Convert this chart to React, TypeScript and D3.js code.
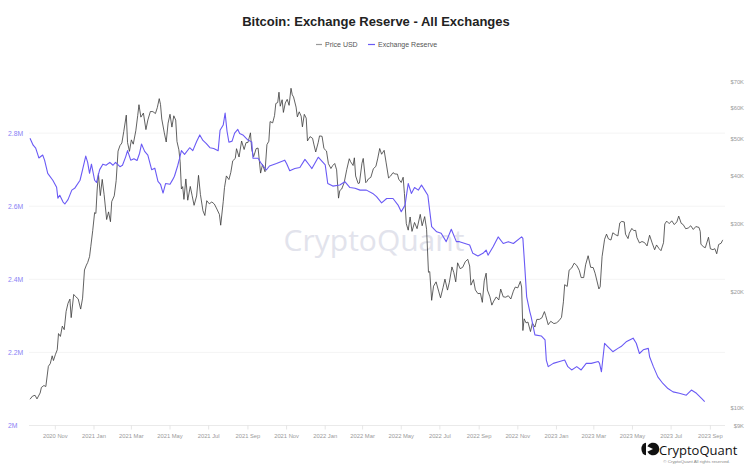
import React from 'react';
import * as d3 from 'd3';

const TITLE = 'Bitcoin: Exchange Reserve - All Exchanges';
const LEGEND = ['Price USD', 'Exchange Reserve'];
const RESERVE_TICKS = [2e6, 2.2e6, 2.4e6, 2.6e6, 2.8e6];
const PRICE_TICKS = [9000, 10000, 20000, 30000, 40000, 50000, 60000, 70000];

const PRICE_USD: [string, number][] = [
  ['2020-09-22', 10530], ['2020-09-26', 10730], ['2020-09-30', 10780], ['2020-10-03', 10550], ['2020-10-08', 10930],
  ['2020-10-10', 11300], ['2020-10-14', 11430], ['2020-10-17', 11360], ['2020-10-21', 12820], ['2020-10-24', 13030],
  ['2020-10-27', 13650], ['2020-10-29', 13270], ['2020-11-01', 13740], ['2020-11-04', 14150], ['2020-11-06', 15590],
  ['2020-11-09', 15330], ['2020-11-12', 16300], ['2020-11-15', 15960], ['2020-11-18', 17800], ['2020-11-21', 18680],
  ['2020-11-24', 19160], ['2020-11-26', 17150], ['2020-11-30', 19700], ['2020-12-03', 19450], ['2020-12-07', 19190],
  ['2020-12-11', 18050], ['2020-12-14', 19270], ['2020-12-17', 22800], ['2020-12-20', 23480], ['2020-12-22', 23830],
  ['2020-12-25', 24700], ['2020-12-27', 26270], ['2020-12-30', 28840], ['2021-01-02', 32130], ['2021-01-04', 31970],
  ['2021-01-06', 36770], ['2021-01-08', 40580], ['2021-01-11', 35570], ['2021-01-14', 39190], ['2021-01-17', 35790],
  ['2021-01-21', 30830], ['2021-01-24', 32270], ['2021-01-27', 30430], ['2021-01-29', 34320], ['2021-02-02', 35520],
  ['2021-02-05', 38900], ['2021-02-08', 46400], ['2021-02-11', 47950], ['2021-02-14', 48720], ['2021-02-17', 52150],
  ['2021-02-21', 57540], ['2021-02-23', 48820], ['2021-02-26', 46340], ['2021-03-01', 49630], ['2021-03-04', 48370],
  ['2021-03-08', 52400], ['2021-03-11', 57350], ['2021-03-13', 61240], ['2021-03-16', 56850], ['2021-03-20', 58250],
  ['2021-03-24', 52770], ['2021-03-27', 55870], ['2021-03-31', 58800], ['2021-04-04', 58760], ['2021-04-08', 58090],
  ['2021-04-11', 60210], ['2021-04-14', 63500], ['2021-04-16', 61340], ['2021-04-18', 56200], ['2021-04-22', 51760],
  ['2021-04-25', 49000], ['2021-04-28', 54860], ['2021-05-01', 57830], ['2021-05-04', 53570], ['2021-05-07', 57310],
  ['2021-05-10', 55860], ['2021-05-12', 49150], ['2021-05-15', 46760], ['2021-05-17', 43540], ['2021-05-19', 37000],
  ['2021-05-21', 37530], ['2021-05-23', 34770], ['2021-05-26', 39290], ['2021-05-29', 34600], ['2021-06-02', 37570],
  ['2021-06-05', 35520], ['2021-06-08', 33560], ['2021-06-12', 35490], ['2021-06-15', 40150], ['2021-06-18', 35820],
  ['2021-06-22', 32500], ['2021-06-25', 31580], ['2021-06-28', 34500], ['2021-07-02', 33870], ['2021-07-06', 34240],
  ['2021-07-10', 33820], ['2021-07-14', 32820], ['2021-07-18', 31780], ['2021-07-20', 29800], ['2021-07-24', 34300],
  ['2021-07-26', 37300], ['2021-07-29', 40010], ['2021-08-02', 39150], ['2021-08-05', 40870], ['2021-08-08', 43790],
  ['2021-08-12', 44420], ['2021-08-14', 47080], ['2021-08-18', 44800], ['2021-08-22', 49290], ['2021-08-26', 46850],
  ['2021-08-29', 48810], ['2021-09-01', 48850], ['2021-09-05', 51760], ['2021-09-07', 46810], ['2021-09-10', 44870],
  ['2021-09-14', 47110], ['2021-09-17', 47260], ['2021-09-21', 40690], ['2021-09-24', 42840], ['2021-09-28', 41030],
  ['2021-10-01', 48230], ['2021-10-04', 49230], ['2021-10-06', 55360], ['2021-10-10', 54940], ['2021-10-13', 57370],
  ['2021-10-15', 61670], ['2021-10-18', 62040], ['2021-10-20', 65990], ['2021-10-22', 60690], ['2021-10-25', 63090],
  ['2021-10-27', 58480], ['2021-10-30', 61890], ['2021-11-02', 63230], ['2021-11-05', 61010], ['2021-11-08', 67560],
  ['2021-11-10', 64950], ['2021-11-12', 64160], ['2021-11-16', 60370], ['2021-11-18', 56940], ['2021-11-21', 58690],
  ['2021-11-24', 57190], ['2021-11-26', 53640], ['2021-11-29', 57810], ['2021-12-02', 56510], ['2021-12-04', 49320],
  ['2021-12-08', 50600], ['2021-12-12', 50100], ['2021-12-14', 48380], ['2021-12-17', 46160], ['2021-12-21', 48910],
  ['2021-12-23', 50820], ['2021-12-27', 50700], ['2021-12-30', 47120], ['2022-01-03', 46430], ['2022-01-06', 43080],
  ['2022-01-10', 41820], ['2022-01-13', 42590], ['2022-01-16', 43100], ['2022-01-19', 41500], ['2022-01-22', 35030],
  ['2022-01-24', 36650], ['2022-01-27', 37000], ['2022-01-31', 38480], ['2022-02-04', 41570], ['2022-02-08', 44340],
  ['2022-02-10', 43570], ['2022-02-14', 42580], ['2022-02-16', 44580], ['2022-02-18', 40000], ['2022-02-22', 38230],
  ['2022-02-24', 38330], ['2022-02-28', 43160], ['2022-03-02', 44420], ['2022-03-06', 38420], ['2022-03-08', 38740],
  ['2022-03-10', 39280], ['2022-03-14', 39670], ['2022-03-18', 41770], ['2022-03-22', 42360], ['2022-03-25', 44500],
  ['2022-03-28', 47130], ['2022-03-31', 45540], ['2022-04-04', 46620], ['2022-04-07', 43450], ['2022-04-11', 39520],
  ['2022-04-14', 39950], ['2022-04-18', 40800], ['2022-04-21', 40480], ['2022-04-25', 40430], ['2022-04-27', 39240],
  ['2022-05-01', 38470], ['2022-05-04', 39690], ['2022-05-06', 36040], ['2022-05-09', 30070], ['2022-05-12', 28930],
  ['2022-05-15', 31300], ['2022-05-18', 28720], ['2022-05-22', 30290], ['2022-05-26', 29190], ['2022-05-31', 31790],
  ['2022-06-03', 29700], ['2022-06-07', 31370], ['2022-06-10', 29080], ['2022-06-13', 22490], ['2022-06-15', 22580],
  ['2022-06-18', 19020], ['2022-06-21', 20700], ['2022-06-25', 21240], ['2022-06-29', 20100], ['2022-07-02', 19300],
  ['2022-07-06', 20540], ['2022-07-09', 21590], ['2022-07-13', 20220], ['2022-07-16', 21200], ['2022-07-20', 23220],
  ['2022-07-23', 22450], ['2022-07-26', 21240], ['2022-07-29', 23800], ['2022-08-02', 22980], ['2022-08-06', 23170],
  ['2022-08-10', 23950], ['2022-08-14', 24310], ['2022-08-17', 23350], ['2022-08-19', 20830], ['2022-08-23', 21530],
  ['2022-08-26', 20240], ['2022-08-30', 19800], ['2022-09-03', 19830], ['2022-09-06', 18790], ['2022-09-09', 21360],
  ['2022-09-12', 22370], ['2022-09-14', 20230], ['2022-09-18', 19420], ['2022-09-21', 18480], ['2022-09-24', 18930],
  ['2022-09-28', 19410], ['2022-10-02', 19060], ['2022-10-05', 20340], ['2022-10-09', 19420], ['2022-10-13', 19380],
  ['2022-10-17', 19550], ['2022-10-21', 19170], ['2022-10-25', 20090], ['2022-10-28', 20590], ['2022-11-01', 20490],
  ['2022-11-05', 21300], ['2022-11-07', 20600], ['2022-11-09', 15880], ['2022-11-11', 17030], ['2022-11-14', 16620],
  ['2022-11-17', 16700], ['2022-11-21', 15780], ['2022-11-24', 16600], ['2022-11-28', 16210], ['2022-12-01', 16970],
  ['2022-12-05', 16970], ['2022-12-09', 17130], ['2022-12-13', 17780], ['2022-12-15', 17360], ['2022-12-19', 16440],
  ['2022-12-23', 16780], ['2022-12-28', 16550], ['2023-01-01', 16620], ['2023-01-05', 16830], ['2023-01-09', 17180],
  ['2023-01-12', 18850], ['2023-01-14', 20880], ['2023-01-18', 20670], ['2023-01-21', 22780], ['2023-01-25', 23060],
  ['2023-01-29', 23750], ['2023-02-02', 23430], ['2023-02-06', 22760], ['2023-02-09', 21790], ['2023-02-13', 21790],
  ['2023-02-16', 23520], ['2023-02-20', 24830], ['2023-02-24', 23170], ['2023-02-28', 23130], ['2023-03-03', 22360],
  ['2023-03-09', 20360], ['2023-03-11', 20620], ['2023-03-14', 24680], ['2023-03-18', 27400], ['2023-03-21', 28250],
  ['2023-03-24', 27470], ['2023-03-28', 27270], ['2023-03-31', 28480], ['2023-04-04', 28170], ['2023-04-08', 27950],
  ['2023-04-11', 30210], ['2023-04-14', 30480], ['2023-04-18', 30390], ['2023-04-20', 28240], ['2023-04-24', 27510],
  ['2023-04-26', 28420], ['2023-04-30', 29230], ['2023-05-03', 28850], ['2023-05-06', 28900], ['2023-05-08', 27690],
  ['2023-05-12', 26800], ['2023-05-16', 27030], ['2023-05-20', 26860], ['2023-05-24', 26330], ['2023-05-28', 28070],
  ['2023-06-01', 26820], ['2023-06-05', 25730], ['2023-06-08', 26480], ['2023-06-12', 25900], ['2023-06-15', 25590],
  ['2023-06-19', 26840], ['2023-06-21', 30010], ['2023-06-24', 30540], ['2023-06-28', 30080], ['2023-07-02', 30590],
  ['2023-07-06', 29910], ['2023-07-10', 30400], ['2023-07-13', 31460], ['2023-07-17', 30120], ['2023-07-20', 29920],
  ['2023-07-24', 29180], ['2023-07-28', 29300], ['2023-08-01', 29700], ['2023-08-05', 29050], ['2023-08-09', 29560],
  ['2023-08-14', 29410], ['2023-08-16', 28700], ['2023-08-17', 26620], ['2023-08-21', 26180], ['2023-08-24', 26050],
  ['2023-08-29', 27730], ['2023-09-01', 25880], ['2023-09-05', 25750], ['2023-09-08', 25900], ['2023-09-11', 25120],
  ['2023-09-14', 26550], ['2023-09-18', 26760], ['2023-09-20', 27200], ['2023-09-21', 27300],
];

const EXCHANGE_RESERVE: [string, number][] = [
  ['2020-09-22', 2.786e6], ['2020-09-27', 2.767e6], ['2020-10-01', 2.759e6], ['2020-10-06', 2.732e6], ['2020-10-12', 2.740e6],
  ['2020-10-15', 2.726e6], ['2020-10-20', 2.690e6], ['2020-10-28', 2.671e6], ['2020-11-03', 2.652e6], ['2020-11-05', 2.622e6],
  ['2020-11-08', 2.630e6], ['2020-11-13', 2.612e6], ['2020-11-16', 2.606e6], ['2020-11-21', 2.618e6], ['2020-11-27', 2.644e6],
  ['2020-12-02', 2.650e6], ['2020-12-10', 2.671e6], ['2020-12-14', 2.700e6], ['2020-12-19', 2.737e6], ['2020-12-22', 2.720e6],
  ['2020-12-25', 2.690e6], ['2020-12-28', 2.715e6], ['2021-01-02', 2.671e6], ['2021-01-05', 2.665e6], ['2021-01-10', 2.700e6],
  ['2021-01-15', 2.715e6], ['2021-01-20', 2.712e6], ['2021-01-26', 2.720e6], ['2021-01-31', 2.712e6], ['2021-02-04', 2.720e6],
  ['2021-02-11', 2.708e6], ['2021-02-15', 2.712e6], ['2021-02-20', 2.735e6], ['2021-02-23', 2.752e6], ['2021-02-28', 2.726e6],
  ['2021-03-05', 2.730e6], ['2021-03-10', 2.725e6], ['2021-03-14', 2.745e6], ['2021-03-17', 2.770e6], ['2021-03-22', 2.750e6],
  ['2021-03-27', 2.740e6], ['2021-04-02', 2.700e6], ['2021-04-07', 2.704e6], ['2021-04-12', 2.668e6], ['2021-04-16', 2.660e6],
  ['2021-04-20', 2.636e6], ['2021-04-24', 2.662e6], ['2021-05-01', 2.660e6], ['2021-05-05', 2.672e6], ['2021-05-08', 2.682e6],
  ['2021-05-13', 2.710e6], ['2021-05-16', 2.730e6], ['2021-05-19', 2.752e6], ['2021-05-24', 2.742e6], ['2021-06-01', 2.760e6],
  ['2021-06-06', 2.752e6], ['2021-06-12', 2.777e6], ['2021-06-17', 2.795e6], ['2021-06-22', 2.780e6], ['2021-06-27', 2.772e6],
  ['2021-07-03', 2.760e6], ['2021-07-09', 2.758e6], ['2021-07-16', 2.752e6], ['2021-07-19', 2.808e6], ['2021-07-24', 2.822e6],
  ['2021-07-27', 2.855e6], ['2021-07-30', 2.805e6], ['2021-08-02', 2.775e6], ['2021-08-07', 2.778e6], ['2021-08-11', 2.800e6],
  ['2021-08-16', 2.810e6], ['2021-08-19', 2.799e6], ['2021-08-24', 2.795e6], ['2021-09-01', 2.781e6], ['2021-09-07', 2.776e6],
  ['2021-09-09', 2.731e6], ['2021-09-17', 2.731e6], ['2021-09-22', 2.717e6], ['2021-09-30', 2.699e6], ['2021-10-05', 2.710e6],
  ['2021-10-16', 2.717e6], ['2021-10-29', 2.726e6], ['2021-11-01', 2.717e6], ['2021-11-06', 2.697e6], ['2021-11-14', 2.703e6],
  ['2021-11-22', 2.706e6], ['2021-11-30', 2.728e6], ['2021-12-08', 2.710e6], ['2021-12-11', 2.703e6], ['2021-12-21', 2.734e6],
  ['2022-01-01', 2.713e6], ['2022-01-05', 2.662e6], ['2022-01-13', 2.655e6], ['2022-01-24', 2.658e6], ['2022-02-01', 2.667e6],
  ['2022-02-09', 2.651e6], ['2022-02-17', 2.649e6], ['2022-02-25', 2.644e6], ['2022-03-07', 2.644e6], ['2022-03-17', 2.635e6],
  ['2022-03-23', 2.626e6], ['2022-03-31', 2.609e6], ['2022-04-08', 2.621e6], ['2022-04-18', 2.621e6], ['2022-04-26', 2.603e6],
  ['2022-05-01', 2.585e6], ['2022-05-07', 2.603e6], ['2022-05-12', 2.662e6], ['2022-05-17', 2.635e6], ['2022-05-22', 2.651e6],
  ['2022-05-28', 2.644e6], ['2022-06-02', 2.658e6], ['2022-06-07', 2.644e6], ['2022-06-12', 2.630e6], ['2022-06-18', 2.544e6],
  ['2022-06-26', 2.530e6], ['2022-07-03', 2.526e6], ['2022-07-11', 2.503e6], ['2022-07-19', 2.537e6], ['2022-07-27', 2.503e6],
  ['2022-08-01', 2.503e6], ['2022-08-17', 2.494e6], ['2022-08-22', 2.471e6], ['2022-08-30', 2.464e6], ['2022-09-07', 2.471e6],
  ['2022-09-12', 2.480e6], ['2022-09-15', 2.466e6], ['2022-09-23', 2.489e6], ['2022-10-01', 2.516e6], ['2022-10-09', 2.498e6],
  ['2022-10-17', 2.503e6], ['2022-10-25', 2.498e6], ['2022-11-07', 2.516e6], ['2022-11-09', 2.512e6], ['2022-11-12', 2.434e6],
  ['2022-11-15', 2.352e6], ['2022-11-20', 2.311e6], ['2022-11-22', 2.298e6], ['2022-11-28', 2.248e6], ['2022-12-08', 2.245e6],
  ['2022-12-14', 2.234e6], ['2022-12-16', 2.179e6], ['2022-12-19', 2.161e6], ['2022-12-27', 2.170e6], ['2023-01-06', 2.175e6],
  ['2023-01-14', 2.179e6], ['2023-01-19', 2.161e6], ['2023-01-25', 2.152e6], ['2023-02-02', 2.161e6], ['2023-02-09', 2.152e6],
  ['2023-02-17', 2.170e6], ['2023-02-25', 2.170e6], ['2023-03-08', 2.175e6], ['2023-03-10', 2.170e6], ['2023-03-13', 2.147e6],
  ['2023-03-18', 2.225e6], ['2023-03-23', 2.216e6], ['2023-03-31', 2.202e6], ['2023-04-08', 2.211e6], ['2023-04-13', 2.216e6],
  ['2023-04-21', 2.229e6], ['2023-05-02', 2.239e6], ['2023-05-07', 2.225e6], ['2023-05-12', 2.197e6], ['2023-05-18', 2.207e6],
  ['2023-05-26', 2.211e6], ['2023-05-28', 2.188e6], ['2023-06-03', 2.161e6], ['2023-06-10', 2.133e6], ['2023-06-18', 2.115e6],
  ['2023-06-26', 2.101e6], ['2023-07-04', 2.092e6], ['2023-07-14', 2.088e6], ['2023-07-25', 2.083e6], ['2023-08-02', 2.097e6],
  ['2023-08-10', 2.088e6], ['2023-08-18', 2.074e6], ['2023-08-23', 2.065e6],
];

const W = 750;
const H = 465;
const FONT = '"Liberation Sans", Arial, Helvetica, sans-serif';
const PRICE_COLOR = '#3a3a3a';
const RESERVE_COLOR = '#6a5af5';

export default function App() {
  const parse = d3.utcParse('%Y-%m-%d');
  const left = 30, right = 723.7, top = 60, bottom = 425.5;

  const x = d3.scaleUtc()
    .domain([parse('2020-09-22')!, parse('2023-09-22')!])
    .range([left, right]);
  const yRes = d3.scaleLinear().domain([2e6, 3e6]).range([bottom, top]);
  const yPrice = d3.scaleLog().domain([9000, 80000]).range([bottom, top]);

  const priceLine = d3.line<[string, number]>()
    .x((d) => x(parse(d[0])!))
    .y((d) => yPrice(d[1]));
  const resLine = d3.line<[string, number]>()
    .x((d) => x(parse(d[0])!))
    .y((d) => yRes(d[1]));

  const xTicks = x.ticks(d3.utcMonth.every(2)!).filter((t) => x(t) > left + 5 && x(t) < right);
  const fmtX = d3.utcFormat('%Y %b');
  const fmtRes = (v: number) => `${d3.format('~g')(v / 1e6)}M`;
  const fmtPrice = (v: number) => `$${v / 1000}K`;

  return (
    <svg width={W} height={H} style={{ position: 'absolute', left: 0, top: 0, background: '#fff' }}
      fontFamily={FONT}>
      <rect x={0} y={0} width={W} height={H} fill="#fff" />
      <text x={376} y={26} textAnchor="middle" fontSize={13} fontWeight="bold" fill="#222">{TITLE}</text>

      {/* legend */}
      <g fontSize={7} fill="#555">
        <line x1={316} x2={322} y1={44.5} y2={44.5} stroke="#999" strokeWidth={1.2} />
        <text x={325} y={47}>{LEGEND[0]}</text>
        <line x1={368} x2={375} y1={44.5} y2={44.5} stroke={RESERVE_COLOR} strokeWidth={1.2} />
        <text x={378} y={47}>{LEGEND[1]}</text>
      </g>

      {/* gridlines */}
      {RESERVE_TICKS.map((t) => (
        <line key={t} x1={left - 1} x2={725} y1={yRes(t)} y2={yRes(t)}
          stroke={t === 2e6 ? '#e4e4e4' : '#f1f1f1'} strokeWidth={0.8} />
      ))}

      {/* watermark */}
      <text x={374} y={251} textAnchor="middle" fontSize={30} fill="#e2e3ec"
        fontFamily='"Open Sans", "Noto Sans", sans-serif'>CryptoQuant</text>

      {/* left axis */}
      {RESERVE_TICKS.map((t) => (
        <text key={t} x={8} y={yRes(t) + 2.4} fontSize={6.8} fill="#8a7ff5">{fmtRes(t)}</text>
      ))}
      {/* right axis */}
      {PRICE_TICKS.map((t) => (
        <text key={t} x={744} y={yPrice(t) + 2} fontSize={5.8} fill="#9a9a9a" textAnchor="end">{fmtPrice(t)}</text>
      ))}
      {/* x axis */}
      {xTicks.map((t) => (
        <g key={t.toISOString()}>
          <line x1={x(t)} x2={x(t)} y1={bottom} y2={bottom + 4} stroke="#e0e0e0" strokeWidth={0.8} />
          <text x={x(t)} y={438} fontSize={5.8} fill="#9a9a9a" textAnchor="middle">{fmtX(t)}</text>
        </g>
      ))}

      <path d={priceLine(PRICE_USD) ?? ''} fill="none" stroke={PRICE_COLOR} strokeWidth={0.8} strokeLinejoin="round" />
      <path d={resLine(EXCHANGE_RESERVE) ?? ''} fill="none" stroke={RESERVE_COLOR} strokeWidth={1.1} strokeLinejoin="round" />

      {/* logo */}
      <g fill="#111">
        <path d="M646,442.8 A4.6,6.2 0 0 0 646,455.2 Z" />
        <path d="M653,449 L647.4,446.2 A6.3,6.3 0 1 1 647.4,451.8 Z" />
      </g>
      <text x={659} y={454.5} fontSize={13} fill="#111" fontFamily='"Open Sans", "Noto Sans", sans-serif'>CryptoQuant</text>
      <text x={730} y={462.5} fontSize={4.4} fill="#888" textAnchor="end">© CryptoQuant All rights reserved.</text>
    </svg>
  );
}
